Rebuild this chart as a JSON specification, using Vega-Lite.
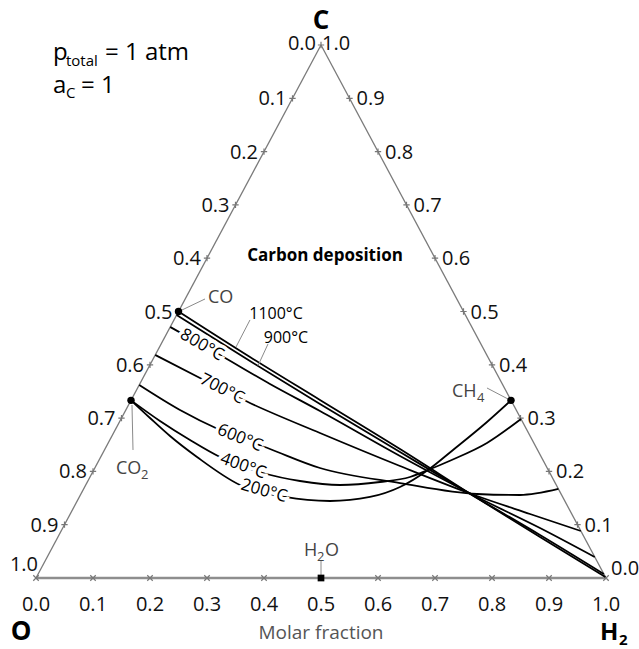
{
  "$schema": "https://vega.github.io/schema/vega-lite/v6.json",
  "width": 639,
  "height": 649,
  "autosize": "none",
  "padding": 0,
  "background": "white",
  "config": {"view": {"stroke": null}, "font": "Open Sans", "text": {"font": "Open Sans"}},
  "datasets": {
    "edges": [
      {"edge": "side", "x": 0, "c": 0, "x2": 0.5, "c2": 1},
      {"edge": "side", "x": 0.5, "c": 1, "x2": 1, "c2": 0},
      {"edge": "bottom", "x": 0, "c": 0, "x2": 1, "c2": 0}
    ],
    "ticks": [
      {"side": "bottom", "x": 0, "c": 0, "label": "0.0"},
      {"side": "bottom", "x": 0.1, "c": 0, "label": "0.1"},
      {"side": "bottom", "x": 0.2, "c": 0, "label": "0.2"},
      {"side": "bottom", "x": 0.3, "c": 0, "label": "0.3"},
      {"side": "bottom", "x": 0.4, "c": 0, "label": "0.4"},
      {"side": "bottom", "x": 0.5, "c": 0, "label": "0.5"},
      {"side": "bottom", "x": 0.6, "c": 0, "label": "0.6"},
      {"side": "bottom", "x": 0.7, "c": 0, "label": "0.7"},
      {"side": "bottom", "x": 0.8, "c": 0, "label": "0.8"},
      {"side": "bottom", "x": 0.9, "c": 0, "label": "0.9"},
      {"side": "bottom", "x": 1, "c": 0, "label": "1.0"},
      {"side": "left", "x": 0.5, "c": 1, "label": "0.0"},
      {"side": "left", "x": 0.45, "c": 0.9, "label": "0.1"},
      {"side": "left", "x": 0.4, "c": 0.8, "label": "0.2"},
      {"side": "left", "x": 0.35, "c": 0.7, "label": "0.3"},
      {"side": "left", "x": 0.3, "c": 0.6, "label": "0.4"},
      {"side": "left", "x": 0.25, "c": 0.5, "label": "0.5"},
      {"side": "left", "x": 0.2, "c": 0.4, "label": "0.6"},
      {"side": "left", "x": 0.15, "c": 0.3, "label": "0.7"},
      {"side": "left", "x": 0.1, "c": 0.2, "label": "0.8"},
      {"side": "left", "x": 0.05, "c": 0.1, "label": "0.9"},
      {"side": "left", "x": 0, "c": 0, "label": "1.0"},
      {"side": "right", "x": 1, "c": 0, "label": "0.0"},
      {"side": "right", "x": 0.95, "c": 0.1, "label": "0.1"},
      {"side": "right", "x": 0.9, "c": 0.2, "label": "0.2"},
      {"side": "right", "x": 0.85, "c": 0.3, "label": "0.3"},
      {"side": "right", "x": 0.8, "c": 0.4, "label": "0.4"},
      {"side": "right", "x": 0.75, "c": 0.5, "label": "0.5"},
      {"side": "right", "x": 0.7, "c": 0.6, "label": "0.6"},
      {"side": "right", "x": 0.65, "c": 0.7, "label": "0.7"},
      {"side": "right", "x": 0.6, "c": 0.8, "label": "0.8"},
      {"side": "right", "x": 0.55, "c": 0.9, "label": "0.9"},
      {"side": "right", "x": 0.5, "c": 1, "label": "1.0"}
    ],
    "curves": [
      {"T": "1100", "o": 0, "x": 0.25, "c": 0.5},
      {"T": "1100", "o": 1, "x": 0.3754, "c": 0.4146},
      {"T": "1100", "o": 2, "x": 0.4982, "c": 0.334},
      {"T": "1100", "o": 3, "x": 0.6386, "c": 0.242},
      {"T": "1100", "o": 4, "x": 0.7737, "c": 0.1501},
      {"T": "1100", "o": 5, "x": 0.8842, "c": 0.0769},
      {"T": "1100", "o": 6, "x": 0.999, "c": 0.002},
      {"T": "900", "o": 0, "x": 0.2467, "c": 0.4934},
      {"T": "900", "o": 1, "x": 0.3754, "c": 0.4071},
      {"T": "900", "o": 2, "x": 0.4982, "c": 0.3265},
      {"T": "900", "o": 3, "x": 0.6386, "c": 0.2364},
      {"T": "900", "o": 4, "x": 0.7737, "c": 0.1501},
      {"T": "900", "o": 5, "x": 0.8842, "c": 0.0807},
      {"T": "900", "o": 6, "x": 0.9963, "c": 0.0075},
      {"T": "800", "o": 0, "x": 0.2355, "c": 0.4709},
      {"T": "800", "o": 1, "x": 0.3228, "c": 0.4184},
      {"T": "800", "o": 2, "x": 0.4105, "c": 0.364},
      {"T": "800", "o": 3, "x": 0.4982, "c": 0.3133},
      {"T": "800", "o": 4, "x": 0.6386, "c": 0.2289},
      {"T": "800", "o": 5, "x": 0.7737, "c": 0.152},
      {"T": "800", "o": 6, "x": 0.8842, "c": 0.0938},
      {"T": "800", "o": 7, "x": 0.9803, "c": 0.0394},
      {"T": "700", "o": 0, "x": 0.2092, "c": 0.4184},
      {"T": "700", "o": 1, "x": 0.2877, "c": 0.3752},
      {"T": "700", "o": 2, "x": 0.3754, "c": 0.3283},
      {"T": "700", "o": 3, "x": 0.4982, "c": 0.272},
      {"T": "700", "o": 4, "x": 0.6386, "c": 0.2101},
      {"T": "700", "o": 5, "x": 0.7737, "c": 0.1538},
      {"T": "700", "o": 6, "x": 0.8667, "c": 0.1201},
      {"T": "700", "o": 7, "x": 0.9559, "c": 0.0882},
      {"T": "600", "o": 0, "x": 0.1811, "c": 0.3621},
      {"T": "600", "o": 1, "x": 0.2526, "c": 0.3152},
      {"T": "600", "o": 2, "x": 0.3228, "c": 0.2777},
      {"T": "600", "o": 3, "x": 0.4105, "c": 0.242},
      {"T": "600", "o": 4, "x": 0.4982, "c": 0.2064},
      {"T": "600", "o": 5, "x": 0.6386, "c": 0.1782},
      {"T": "600", "o": 6, "x": 0.7737, "c": 0.1576},
      {"T": "600", "o": 7, "x": 0.8491, "c": 0.1557},
      {"T": "600", "o": 8, "x": 0.9165, "c": 0.167},
      {"T": "400", "o": 0, "x": 0.16667, "c": 0.33333},
      {"T": "400", "o": 1, "x": 0.2175, "c": 0.2946},
      {"T": "400", "o": 2, "x": 0.2702, "c": 0.2589},
      {"T": "400", "o": 3, "x": 0.3228, "c": 0.227},
      {"T": "400", "o": 4, "x": 0.3982, "c": 0.197},
      {"T": "400", "o": 5, "x": 0.4632, "c": 0.182},
      {"T": "400", "o": 6, "x": 0.5333, "c": 0.1745},
      {"T": "400", "o": 7, "x": 0.6035, "c": 0.1801},
      {"T": "400", "o": 8, "x": 0.6561, "c": 0.1895},
      {"T": "400", "o": 9, "x": 0.6877, "c": 0.2026},
      {"T": "400", "o": 10, "x": 0.7263, "c": 0.22},
      {"T": "400", "o": 11, "x": 0.7912, "c": 0.2533},
      {"T": "400", "o": 12, "x": 0.8508, "c": 0.2983},
      {"T": "200", "o": 0, "x": 0.16667, "c": 0.33333},
      {"T": "200", "o": 1, "x": 0.2, "c": 0.3002},
      {"T": "200", "o": 2, "x": 0.2351, "c": 0.2664},
      {"T": "200", "o": 3, "x": 0.2825, "c": 0.227},
      {"T": "200", "o": 4, "x": 0.3579, "c": 0.1745},
      {"T": "200", "o": 5, "x": 0.4368, "c": 0.152},
      {"T": "200", "o": 6, "x": 0.5158, "c": 0.1445},
      {"T": "200", "o": 7, "x": 0.586, "c": 0.152},
      {"T": "200", "o": 8, "x": 0.6386, "c": 0.1707},
      {"T": "200", "o": 9, "x": 0.6877, "c": 0.2026},
      {"T": "200", "o": 10, "x": 0.7316, "c": 0.2402},
      {"T": "200", "o": 11, "x": 0.7912, "c": 0.2927},
      {"T": "200", "o": 12, "x": 0.83333, "c": 0.33333}
    ],
    "leaders": [
      {"to": "CO", "x": 0.2561, "c": 0.5028, "x2": 0.2965, "c2": 0.5235},
      {"to": "CO2", "x": 0.1684, "c": 0.3246, "x2": 0.1702, "c2": 0.2402},
      {"to": "CH4", "x": 0.8281, "c": 0.3358, "x2": 0.7912, "c2": 0.3565},
      {"to": "H2O", "x": 0.5, "c": 0.0056, "x2": 0.5, "c2": 0.0338},
      {"to": "1100", "x": 0.3509, "c": 0.4334, "x2": 0.3754, "c2": 0.4841},
      {"to": "900", "x": 0.3895, "c": 0.3985, "x2": 0.407, "c2": 0.439}
    ],
    "species": [
      {"name": "CO", "x": 0.25, "c": 0.5},
      {"name": "CO2", "x": 0.16667, "c": 0.33333},
      {"name": "CH4", "x": 0.83333, "c": 0.33333}
    ]
  },
  "encoding": {
    "x": {"field": "x", "type": "quantitative", "scale": {"domain": [-0.06316, 1.05789], "nice": false, "zero": false}, "axis": null},
    "y": {"field": "c", "type": "quantitative", "scale": {"domain": [-0.13321, 1.08443], "nice": false, "zero": false}, "axis": null}
  },
  "layer": [
    {
      "data": {"name": "edges"},
      "transform": [{"filter": "datum.edge == 'side'"}],
      "mark": {"type": "rule", "stroke": "#7a7a7a", "strokeWidth": 1.3},
      "encoding": {"x2": {"field": "x2"}, "y2": {"field": "c2"}}
    },
    {
      "data": {"name": "edges"},
      "transform": [{"filter": "datum.edge == 'bottom'"}],
      "mark": {"type": "rule", "stroke": "#8e8e8e", "strokeWidth": 2.5},
      "encoding": {"x2": {"field": "x2"}, "y2": {"field": "c2"}}
    },
    {
      "data": {"name": "ticks"},
      "transform": [{"filter": "datum.side == 'bottom'"}],
      "mark": {"type": "point", "shape": "M-1,-1L1,1M-1,1L1,-1", "size": 30, "filled": false, "stroke": "#777777", "strokeWidth": 1.2, "opacity": 1}
    },
    {
      "data": {"name": "ticks"},
      "transform": [{"filter": "(datum.side == 'left' && datum.c > 0) || (datum.side == 'right' && datum.c > 0 && datum.c < 1)"}],
      "mark": {"type": "point", "shape": "M-1,0L1,0M0,-1L0,1", "size": 40, "filled": false, "stroke": "#777777", "strokeWidth": 1.2, "opacity": 1}
    },
    {
      "data": {"name": "curves"},
      "mark": {"type": "line", "stroke": "black", "strokeWidth": 1.8, "interpolate": "monotone"},
      "encoding": {"detail": {"field": "T"}, "order": {"field": "o", "type": "quantitative"}}
    },
    {
      "data": {"name": "leaders"},
      "mark": {"type": "rule", "stroke": "#8a8a8a", "strokeWidth": 1},
      "encoding": {"x2": {"field": "x2"}, "y2": {"field": "c2"}}
    },
    {
      "data": {"name": "species"},
      "mark": {"type": "point", "shape": "circle", "size": 55, "filled": true, "fill": "black", "opacity": 1}
    },
    {
      "data": {"values": [{"name": "H2O", "x": 0.5, "c": 0}]},
      "mark": {"type": "point", "shape": "square", "size": 45, "filled": true, "fill": "black", "opacity": 1}
    },
    {
      "data": {"values": [{"T": "800°C", "x": 0.2912, "c": 0.4371}]},
      "layer": [
        {"mark": {"type": "text", "fontSize": 17, "angle": 30, "fill": "white", "stroke": "white", "strokeWidth": 7, "baseline": "middle"}, "encoding": {"text": {"field": "T"}}},
        {"mark": {"type": "text", "fontSize": 17, "angle": 30, "fill": "black", "baseline": "middle"}, "encoding": {"text": {"field": "T"}}}
      ]
    },
    {
      "data": {"values": [{"T": "700°C", "x": 0.3263, "c": 0.3546}]},
      "layer": [
        {"mark": {"type": "text", "fontSize": 17, "angle": 27, "fill": "white", "stroke": "white", "strokeWidth": 7, "baseline": "middle"}, "encoding": {"text": {"field": "T"}}},
        {"mark": {"type": "text", "fontSize": 17, "angle": 27, "fill": "black", "baseline": "middle"}, "encoding": {"text": {"field": "T"}}}
      ]
    },
    {
      "data": {"values": [{"T": "600°C", "x": 0.3579, "c": 0.2627}]},
      "layer": [
        {"mark": {"type": "text", "fontSize": 17, "angle": 22, "fill": "white", "stroke": "white", "strokeWidth": 7, "baseline": "middle"}, "encoding": {"text": {"field": "T"}}},
        {"mark": {"type": "text", "fontSize": 17, "angle": 22, "fill": "black", "baseline": "middle"}, "encoding": {"text": {"field": "T"}}}
      ]
    },
    {
      "data": {"values": [{"T": "400°C", "x": 0.3632, "c": 0.2101}]},
      "layer": [
        {"mark": {"type": "text", "fontSize": 17, "angle": 20, "fill": "white", "stroke": "white", "strokeWidth": 7, "baseline": "middle"}, "encoding": {"text": {"field": "T"}}},
        {"mark": {"type": "text", "fontSize": 17, "angle": 20, "fill": "black", "baseline": "middle"}, "encoding": {"text": {"field": "T"}}}
      ]
    },
    {
      "data": {"values": [{"T": "200°C", "x": 0.4, "c": 0.1632}]},
      "layer": [
        {"mark": {"type": "text", "fontSize": 17, "angle": 16, "fill": "white", "stroke": "white", "strokeWidth": 7, "baseline": "middle"}, "encoding": {"text": {"field": "T"}}},
        {"mark": {"type": "text", "fontSize": 17, "angle": 16, "fill": "black", "baseline": "middle"}, "encoding": {"text": {"field": "T"}}}
      ]
    },
    {
      "data": {"values": [{"T": "1100°C", "x": 0.4211, "c": 0.4953}, {"T": "900°C", "x": 0.4386, "c": 0.4503}]},
      "mark": {"type": "text", "fontSize": 16, "fill": "black", "baseline": "middle"},
      "encoding": {"text": {"field": "T"}}
    },
    {
      "data": {"name": "ticks"},
      "transform": [{"filter": "datum.side == 'bottom'"}],
      "mark": {"type": "text", "fontSize": 20, "fill": "#111111", "align": "center", "baseline": "middle", "dy": 27},
      "encoding": {"text": {"field": "label"}}
    },
    {
      "data": {"name": "ticks"},
      "transform": [{"filter": "datum.side == 'left' && datum.c > 0 && datum.c < 1"}],
      "mark": {"type": "text", "fontSize": 20, "fill": "#111111", "align": "right", "baseline": "middle", "dx": -6, "dy": 1},
      "encoding": {"text": {"field": "label"}}
    },
    {
      "data": {"name": "ticks"},
      "transform": [{"filter": "datum.side == 'right' && datum.c > 0 && datum.c < 1"}],
      "mark": {"type": "text", "fontSize": 20, "fill": "#111111", "align": "left", "baseline": "middle", "dx": 7, "dy": 1},
      "encoding": {"text": {"field": "label"}}
    },
    {
      "data": {"name": "ticks"},
      "transform": [{"filter": "datum.side == 'left' && datum.c == 1"}],
      "mark": {"type": "text", "fontSize": 20, "fill": "#111111", "align": "right", "baseline": "middle", "dx": -5, "dy": -1},
      "encoding": {"text": {"field": "label"}}
    },
    {
      "data": {"name": "ticks"},
      "transform": [{"filter": "datum.side == 'right' && datum.c == 1"}],
      "mark": {"type": "text", "fontSize": 20, "fill": "#111111", "align": "left", "baseline": "middle", "dx": 1, "dy": -1},
      "encoding": {"text": {"field": "label"}}
    },
    {
      "data": {"name": "ticks"},
      "transform": [{"filter": "datum.side == 'left' && datum.c == 0"}],
      "mark": {"type": "text", "fontSize": 20, "fill": "#111111", "align": "right", "baseline": "middle", "dx": 2, "dy": -13},
      "encoding": {"text": {"field": "label"}}
    },
    {
      "data": {"name": "ticks"},
      "transform": [{"filter": "datum.side == 'right' && datum.c == 0"}],
      "mark": {"type": "text", "fontSize": 20, "fill": "#111111", "align": "left", "baseline": "middle", "dx": 5, "dy": -9},
      "encoding": {"text": {"field": "label"}}
    },
    {
      "data": {"values": [
        {"t": "CO", "x": 0.3018, "c": 0.5159},
        {"t": "CO", "x": 0.1404, "c": 0.1951},
        {"t": "CH", "x": 0.7298, "c": 0.3396},
        {"t": "H", "x": 0.4702, "c": 0.0413},
        {"t": "O", "x": 0.507, "c": 0.0413}
      ]},
      "mark": {"type": "text", "fontSize": 18, "fill": "#444444", "align": "left", "baseline": "alphabetic"},
      "encoding": {"text": {"field": "t"}}
    },
    {
      "data": {"values": [
        {"t": "2", "x": 0.1842, "c": 0.1857},
        {"t": "4", "x": 0.7737, "c": 0.3302},
        {"t": "2", "x": 0.493, "c": 0.0319}
      ]},
      "mark": {"type": "text", "fontSize": 13, "fill": "#444444", "align": "left", "baseline": "alphabetic"},
      "encoding": {"text": {"field": "t"}}
    },
    {
      "data": {"values": [{"t": "C", "x": 0.5, "c": 1.045}, {"t": "O", "x": -0.0263, "c": -0.1013}]},
      "mark": {"type": "text", "fontSize": 26, "fontWeight": "bold", "fill": "black", "align": "center", "baseline": "middle"},
      "encoding": {"text": {"field": "t"}}
    },
    {
      "data": {"values": [{"t": "H", "x": 0.9895, "c": -0.1164}]},
      "mark": {"type": "text", "fontSize": 24, "fontWeight": "bold", "fill": "black", "align": "left", "baseline": "alphabetic"},
      "encoding": {"text": {"field": "t"}}
    },
    {
      "data": {"values": [{"t": "2", "x": 1.0228, "c": -0.1257}]},
      "mark": {"type": "text", "fontSize": 15, "fontWeight": "bold", "fill": "black", "align": "left", "baseline": "alphabetic"},
      "encoding": {"text": {"field": "t"}}
    },
    {
      "data": {"values": [{"t": "Carbon deposition", "x": 0.507, "c": 0.6041}]},
      "mark": {"type": "text", "fontSize": 17, "fontWeight": "bold", "fill": "black", "align": "center", "baseline": "middle"},
      "encoding": {"text": {"field": "t"}}
    },
    {
      "data": {"values": [{"t": "Molar fraction", "x": 0.5, "c": -0.1032}]},
      "mark": {"type": "text", "fontSize": 19, "fill": "#555555", "align": "center", "baseline": "middle"},
      "encoding": {"text": {"field": "t"}}
    },
    {
      "data": {"values": [{"t": "p", "x": 0.0298, "c": 0.9719}, {"t": "= 1 atm", "x": 0.1211, "c": 0.9719}, {"t": "a", "x": 0.0298, "c": 0.9099}, {"t": "= 1", "x": 0.0789, "c": 0.9099}]},
      "mark": {"type": "text", "fontSize": 24, "fill": "black", "align": "left", "baseline": "alphabetic"},
      "encoding": {"text": {"field": "t"}}
    },
    {
      "data": {"values": [{"t": "total", "x": 0.0526, "c": 0.9606}, {"t": "C", "x": 0.0526, "c": 0.9006}]},
      "mark": {"type": "text", "fontSize": 15, "fill": "black", "align": "left", "baseline": "alphabetic"},
      "encoding": {"text": {"field": "t"}}
    }
  ]
}
